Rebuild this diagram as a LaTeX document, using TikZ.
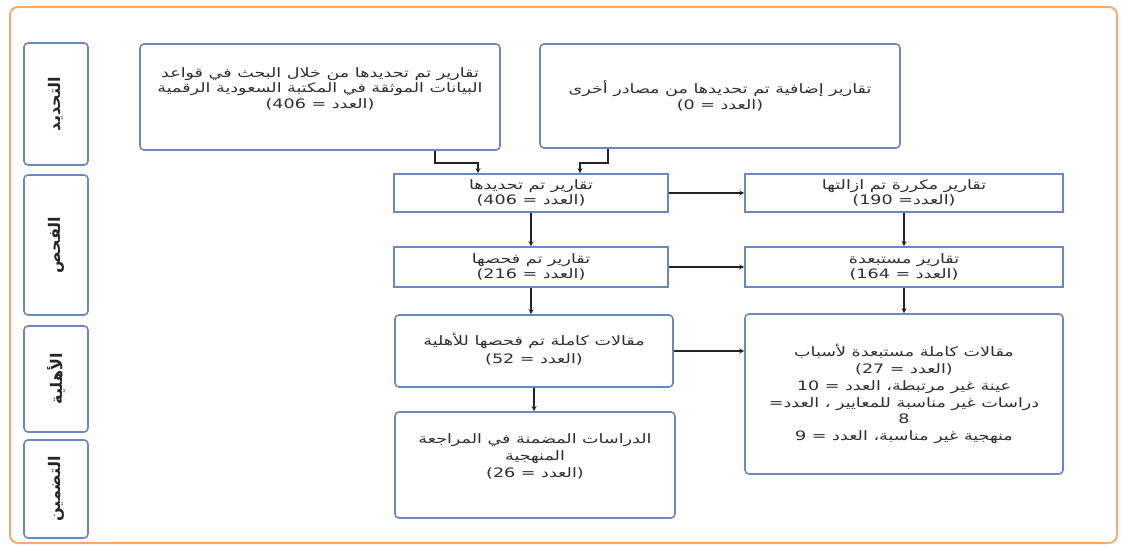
\documentclass[tikz,border=0pt]{standalone}
\usepackage{fontspec}
\usetikzlibrary{arrows.meta}
\TeXXeTstate=1
\newfontfamily\arabicfont[Script=Arabic,FakeStretch=1.35]{DejaVu Sans}
\newfontfamily\arabicside[Script=Arabic]{DejaVu Sans}
\newcommand{\ar}[1]{{\beginR #1\endR}}
\newcommand{\nm}[1]{\beginL #1\endL{}}
\definecolor{boxblue}{RGB}{105,135,192}
\definecolor{frameorange}{RGB}{240,172,118}
\definecolor{arrowgray}{RGB}{35,35,35}
\begin{document}
\begin{tikzpicture}[x=1pt,y=-1pt,
  box/.style={draw=boxblue, line width=1.6pt, fill=white, align=center, inner sep=2pt,
    font=\arabicfont\fontsize{13}{15.5}\selectfont, text=black!82},
  rbox/.style={box, rounded corners=4pt},
  side/.style={rbox, minimum width=64pt, font=\arabicside\bfseries\fontsize{16}{18}\selectfont, text=black!85},
  conn/.style={draw=arrowgray, line width=2pt, -{Stealth[length=5pt,width=5pt]}}]
\useasboundingbox (0,0) rectangle (1121,546);
\draw[frameorange, line width=2pt, rounded corners=8pt] (10,7) rectangle (1117,543);

% side labels
\node[side, minimum height=122pt] (s1) at (56,104) {\rotatebox{90}{\ar{التحديد}}};
\node[side, minimum height=140pt] (s2) at (56,245) {\rotatebox{90}{\ar{الفحص}}};
\node[side, minimum height=106pt] (s3) at (56,379) {\rotatebox{90}{\ar{الأهلية}}};
\node[side, minimum height=98pt] (s4) at (56,489) {\rotatebox{90}{\ar{التضمين}}};

% main boxes
\node[rbox, minimum width=360pt, minimum height=106pt, text depth=18pt] (A) at (320,97)
  {\ar{تقارير تم تحديدها من خلال البحث في قواعد}\\
   \ar{البيانات الموثقة في المكتبة السعودية الرقمية}\\
   \ar{(العدد = \nm{406})}};
\node[rbox, minimum width=360pt, minimum height=104pt] (B) at (720,96)
  {\ar{تقارير إضافية تم تحديدها من مصادر أخرى}\\
   \ar{(العدد = \nm{0})}};
\node[box, minimum width=274pt, minimum height=38pt] (C) at (531,193)
  {\ar{تقارير تم تحديدها}\\ \ar{(العدد = \nm{406})}};
\node[box, minimum width=318pt, minimum height=38pt] (D) at (904,193)
  {\ar{تقارير مكررة تم ازالتها}\\ \ar{(العدد= \nm{190})}};
\node[box, minimum width=274pt, minimum height=40pt] (E) at (531,267)
  {\ar{تقارير تم فحصها}\\ \ar{(العدد = \nm{216})}};
\node[box, minimum width=318pt, minimum height=40pt] (F) at (904,267)
  {\ar{تقارير مستبعدة}\\ \ar{(العدد = \nm{164})}};
\node[rbox, minimum width=278pt, minimum height=72pt, text depth=6pt, font=\arabicfont\fontsize{13}{18}\selectfont] (G) at (534,351)
  {\ar{مقالات كاملة تم فحصها للأهلية}\\ \ar{(العدد = \nm{52})}};
\node[rbox, minimum width=280pt, minimum height=106pt, text depth=18pt, font=\arabicfont\fontsize{13}{17}\selectfont] (H) at (535,465)
  {\ar{الدراسات المضمنة في المراجعة}\\ \ar{المنهجية}\\ \ar{(العدد = \nm{26})}};
\node[rbox, minimum width=318pt, minimum height=160pt, font=\arabicfont\fontsize{13}{16.8}\selectfont] (I) at (904,394)
  {\ar{مقالات كاملة مستبعدة لأسباب}\\
   \ar{(العدد = \nm{27})}\\
   \ar{عينة غير مرتبطة، العدد = \nm{10}}\\
   \ar{دراسات غير مناسبة للمعايير ، العدد=}\\
   \nm{8}\\
   \ar{منهجية غير مناسبة، العدد = \nm{9}}};

% connectors
\coordinate (a1) at (435,163);
\coordinate (b1) at (608,163);
\coordinate (ca) at (478,163);
\coordinate (cb) at (580,163);
\draw[conn] (A.south -| a1) -- (a1) -- (ca) -- (C.north -| ca);
\draw[conn] (B.south -| b1) -- (b1) -- (cb) -- (C.north -| cb);
\draw[conn] (C.east) -- (D.west);
\draw[conn] (E.east) -- (F.west);
\draw[conn] (G.east) -- (G.east -| I.west);
\draw[conn] (C.south) -- (E.north);
\draw[conn] (D.south) -- (F.north);
\draw[conn] (E.south) -- (E.south |- G.north);
\draw[conn] (G.south) -- (G.south |- H.north);
\draw[conn] (F.south) -- (F.south |- I.north);
\end{tikzpicture}
\end{document}
